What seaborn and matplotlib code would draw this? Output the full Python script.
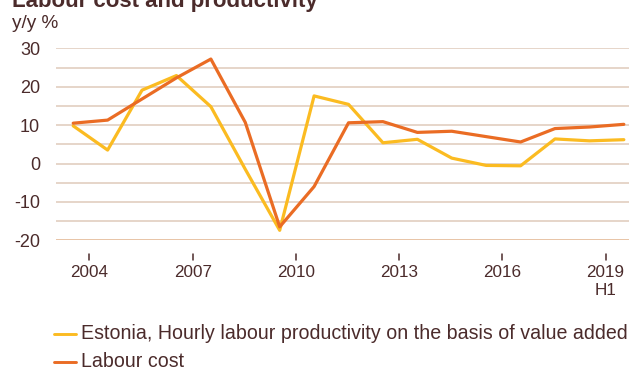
import numpy as np
import pandas as pd
import matplotlib
matplotlib.use("Agg")
import matplotlib.pyplot as plt
import seaborn as sns

years = list(range(2003, 2020))
tick_years = [2004, 2007, 2010, 2013, 2016, 2019]
tick_labels = ["2004", "2007", "2010", "2013", "2016", "2019\nH1"]
productivity = [9.8, 3.5, 19.1, 22.9, 14.8, -1.5, -17.4, 17.6, 15.4, 5.4, 6.3, 1.4, -0.5, -0.6, 6.4, 5.9, 6.2]
labour_cost = [10.5, 11.3, 16.8, 22.3, 27.2, 10.7, -16.5, -6.0, 10.6, 10.9, 8.1, 8.4, 7.0, 5.6, 9.1, 9.5, 10.2]
series_names = ["Estonia, Hourly labour productivity on the basis of value added", "Labour cost"]
colors = ["#fbbb21", "#ea6c24"]

df = pd.DataFrame({
    "x": [y + 0.53 for y in years] * 2,
    "value": productivity + labour_cost,
    "series": [series_names[0]] * len(years) + [series_names[1]] * len(years),
})

sns.set_theme(style="white")
plt.rcParams["font.family"] = ["Liberation Sans", "DejaVu Sans"]
text_color = "#4b2b2b"

fig = plt.figure(figsize=(6.29, 3.70), dpi=100)
top_px, bot_px, left_px = 48.3, 240.3, 56
ax = fig.add_axes([left_px / 629, 1 - bot_px / 370, 1 - left_px / 629, (bot_px - top_px) / 370])

for v in range(-15, 31, 5):
    ax.axhline(v, color="#e4d2c5", lw=1.3, zorder=0)
ax.axhline(-20, color="#e6bf9f", lw=1.3, zorder=0)

sns.lineplot(data=df, x="x", y="value", hue="series", palette=colors,
             linewidth=2.3, ax=ax, legend=False)

ax.set_ylim(-20, 30)
ax.set_xlim(2003.03, 2019.68)
ax.set_xlabel("")
ax.set_ylabel("")
for s in ax.spines.values():
    s.set_visible(False)
ax.set_yticks(range(-20, 31, 10))
ax.set_yticklabels([str(v) for v in range(-20, 31, 10)])
ax.set_xticks(tick_years)
ax.set_xticklabels(tick_labels, linespacing=1.24)
ax.tick_params(axis="y", length=0, pad=11.5, labelsize=13.0, labelcolor=text_color)
ax.tick_params(axis="x", length=0, pad=18, labelsize=12.3, labelcolor=text_color)
for t in tick_years:
    ax.plot([t, t], [-23.46, -25.2], color=text_color, lw=1.1, clip_on=False)
for lab in ax.get_xticklabels():
    lab.set_verticalalignment("top")

fig.text(12.5 / 629, 1 - 7 / 370, "Labour cost and productivity", fontsize=16,
         fontweight="bold", color=text_color, va="baseline", ha="left")
fig.text(12.5 / 629, 1 - 24 / 370, "y/y %", fontsize=13.7, color=text_color,
         va="center", ha="left")

legend_y = [333.5, 361.5]
for name, col, ly in zip(series_names, colors, legend_y):
    yf = 1 - ly / 370
    fig.add_artist(plt.Line2D([54 / 629, 76 / 629], [yf, yf], color=col, lw=2.1,
                              transform=fig.transFigure))
    fig.text(81 / 629, yf, name, fontsize=14.1, color=text_color, va="center", ha="left")

fig.savefig("out.png", dpi=100)
